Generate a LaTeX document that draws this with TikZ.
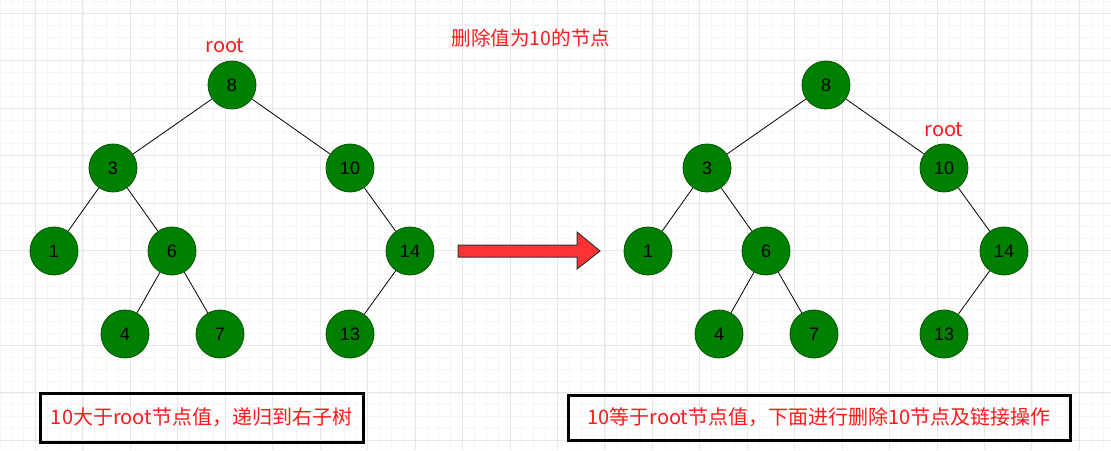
\documentclass[tikz,border=0pt]{standalone}
\usepackage{fontspec}
\setmainfont{Liberation Sans}
\newfontfamily\cjk{Noto Sans CJK SC}
\definecolor{majorgrid}{HTML}{E6E6E6}
\definecolor{minorgrid}{HTML}{F5F5F5}
\definecolor{nodegreen}{HTML}{008000}
\definecolor{nodeborder}{HTML}{005700}
\definecolor{labelred}{HTML}{FF1A1A}
\definecolor{arrowred}{HTML}{FF3333}
\begin{document}
\begin{tikzpicture}[x=1pt,y=-1pt,
  treenode/.style={circle,fill=nodegreen,draw=nodeborder,line width=0.8pt,minimum size=48pt,inner sep=0pt,font=\fontsize{18}{18}\selectfont},
  edge/.style={draw=black,line width=0.8pt},
  redlabel/.style={text=labelred,font=\cjk\fontsize{20}{20}\selectfont,inner sep=0pt},
  notebox/.style={draw=black,line width=3pt,inner sep=0pt,text=labelred,font=\cjk\fontsize{20}{20}\selectfont}]
\useasboundingbox (0,0) rectangle (1111,450);
\fill[white] (0,0) rectangle (1111,450);
% minor grid
\foreach \i in {0,...,95} {
  \pgfmathsetmacro\gx{35.5-47.45+11.8625*\i}
  \draw[minorgrid,line width=0.8pt] (\gx,0) -- (\gx,450);
}
\foreach \i in {0,...,40} {
  \pgfmathsetmacro\gy{13.3-47.45+11.8625*\i}
  \draw[minorgrid,line width=0.8pt] (0,\gy) -- (1111,\gy);
}
% major grid
\foreach \i in {0,...,24} {
  \pgfmathsetmacro\gx{35.5-47.45+47.45*\i}
  \draw[majorgrid,line width=1pt] (\gx,0) -- (\gx,450);
}
\foreach \i in {0,...,10} {
  \pgfmathsetmacro\gy{13.3+47.45*\i}
  \draw[majorgrid,line width=1pt] (0,\gy) -- (1111,\gy);
}
% title
\node[redlabel,font=\cjk\fontsize{19.5}{19.5}\selectfont] (title) at (531,38) {删除值为10的节点};
% left tree
\node[treenode] (a8) at (232,85) {8};
\node[treenode] (a3) at (113,168) {3};
\node[treenode] (a10) at (350,168) {10};
\node[treenode] (a1) at (54,251) {1};
\node[treenode] (a6) at (172,251) {6};
\node[treenode] (a14) at (410,251) {14};
\node[treenode] (a4) at (125,334) {4};
\node[treenode] (a7) at (220,334) {7};
\node[treenode] (a13) at (350,334) {13};
\draw[edge] (a8) -- (a3);
\draw[edge] (a8) -- (a10);
\draw[edge] (a3) -- (a1);
\draw[edge] (a3) -- (a6);
\draw[edge] (a6) -- (a4);
\draw[edge] (a6) -- (a7);
\draw[edge] (a10) -- (a14);
\draw[edge] (a14) -- (a13);
\node[redlabel] (rootA) at (225,46) {root};
% right tree
\node[treenode] (b8) at (826,85) {8};
\node[treenode] (b3) at (707,168) {3};
\node[treenode] (b10) at (944,168) {10};
\node[treenode] (b1) at (648,251) {1};
\node[treenode] (b6) at (766,251) {6};
\node[treenode] (b14) at (1004,251) {14};
\node[treenode] (b4) at (719,334) {4};
\node[treenode] (b7) at (814,334) {7};
\node[treenode] (b13) at (944,334) {13};
\draw[edge] (b8) -- (b3);
\draw[edge] (b8) -- (b10);
\draw[edge] (b3) -- (b1);
\draw[edge] (b3) -- (b6);
\draw[edge] (b6) -- (b4);
\draw[edge] (b6) -- (b7);
\draw[edge] (b10) -- (b14);
\draw[edge] (b14) -- (b13);
\node[redlabel] (rootB) at (944,130) {root};
% arrow
\draw[fill=arrowred,draw=black!80,line width=1pt,line join=miter]
  (458,245) -- (577,245) -- (577,232) -- (600,251) -- (577,269) -- (577,257) -- (458,257) -- cycle;
% boxes
\node[notebox,minimum width=323pt,minimum height=49pt] (boxA) at (201.5,417.5) {10大于root节点值，递归到右子树};
\node[notebox,minimum width=502pt,minimum height=45pt] (boxB) at (819,417.5) {10等于root节点值，下面进行删除10节点及链接操作};
\end{tikzpicture}
\end{document}
